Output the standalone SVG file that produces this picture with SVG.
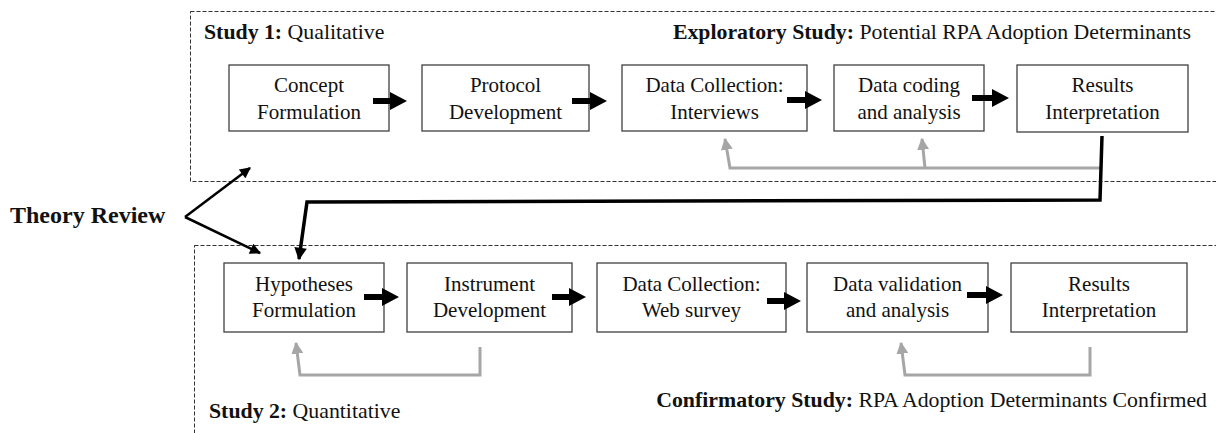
<svg xmlns="http://www.w3.org/2000/svg" width="1216" height="433" viewBox="0 0 1216 433">
  <defs>
    <style>
      .frame { fill: none; stroke: #333; stroke-width: 1; stroke-dasharray: 4 2; }
      .box { fill: #fff; stroke: #404040; stroke-width: 1.3; }
      .lbl { font-family: "Liberation Serif", "Times New Roman", serif; font-size: 21px; fill: #111; text-anchor: middle; }
      .head { font-family: "Liberation Serif", "Times New Roman", serif; font-size: 21.8px; fill: #111; }
      .head tspan.b { font-weight: bold; }
      .theory { font-family: "Liberation Serif", "Times New Roman", serif; font-size: 24px; font-weight: bold; fill: #111; }
      .step { fill: #000; }
      .fb { fill: none; stroke: #a6a6a6; stroke-width: 3; stroke-linejoin: miter; }
      .link { fill: none; stroke: #000; stroke-width: 3.5; stroke-linejoin: miter; }
      .thin { fill: none; stroke: #000; stroke-width: 2.5; }
    </style>
    <marker id="grayHead" viewBox="0 0 10 10" refX="9" refY="5" markerWidth="4" markerHeight="4" markerUnits="strokeWidth" orient="auto">
      <path d="M0,0 L10,5 L0,10 Z" fill="#a6a6a6"/>
    </marker>
    <marker id="blackHead" viewBox="0 0 10 10" refX="9" refY="5" markerWidth="4" markerHeight="3.6" markerUnits="strokeWidth" orient="auto">
      <path d="M0,0 L10,5 L0,10 Z" fill="#000"/>
    </marker>
    <marker id="thinHead" viewBox="0 0 10 10" refX="9" refY="5" markerWidth="5" markerHeight="4.4" markerUnits="strokeWidth" orient="auto">
      <path d="M0,0 L10,5 L0,10 Z" fill="#000"/>
    </marker>
  </defs>

  <!-- study frames -->
  <g id="study1-frame">
    <rect class="frame" x="190.5" y="11.5" width="1040" height="170"/>
    <text class="head" x="204" y="39"><tspan class="b">Study 1:</tspan> Qualitative</text>
    <text class="head" x="1191" y="39" text-anchor="end"><tspan class="b">Exploratory Study:</tspan> Potential RPA Adoption Determinants</text>
  </g>
  <g id="study2-frame">
    <rect class="frame" x="194.5" y="245.5" width="1040" height="200"/>
    <text class="head" x="209" y="418"><tspan class="b">Study 2:</tspan> Quantitative</text>
    <text class="head" x="1207" y="407" text-anchor="end"><tspan class="b">Confirmatory Study:</tspan> RPA Adoption Determinants Confirmed</text>
  </g>

  <g id="theory-review">
    <text class="theory" x="10" y="223">Theory Review</text>
  </g>

  <!-- study 1 steps -->
  <g id="concept-formulation">
    <rect class="box" x="229" y="65" width="160" height="66"/>
    <text class="lbl" x="309" y="92">Concept</text>
    <text class="lbl" x="309" y="119">Formulation</text>
  </g>
  <g id="protocol-development">
    <rect class="box" x="422" y="65" width="167" height="66"/>
    <text class="lbl" x="505.5" y="92">Protocol</text>
    <text class="lbl" x="505.5" y="119">Development</text>
  </g>
  <g id="data-collection-interviews">
    <rect class="box" x="622" y="65" width="185" height="66"/>
    <text class="lbl" x="714.5" y="92">Data Collection:</text>
    <text class="lbl" x="714.5" y="119">Interviews</text>
  </g>
  <g id="data-coding">
    <rect class="box" x="834" y="65" width="150" height="66"/>
    <text class="lbl" x="909" y="92">Data coding</text>
    <text class="lbl" x="909" y="119">and analysis</text>
  </g>
  <g id="results-interpretation-1">
    <rect class="box" x="1017" y="65" width="171" height="67"/>
    <text class="lbl" x="1102.5" y="92">Results</text>
    <text class="lbl" x="1102.5" y="119">Interpretation</text>
  </g>

  <!-- study 2 steps -->
  <g id="hypotheses-formulation">
    <rect class="box" x="224" y="263" width="160" height="69"/>
    <text class="lbl" x="304" y="291">Hypotheses</text>
    <text class="lbl" x="304" y="317">Formulation</text>
  </g>
  <g id="instrument-development">
    <rect class="box" x="407" y="263" width="165" height="69"/>
    <text class="lbl" x="489.5" y="291">Instrument</text>
    <text class="lbl" x="489.5" y="317">Development</text>
  </g>
  <g id="data-collection-survey">
    <rect class="box" x="597" y="263" width="189" height="69"/>
    <text class="lbl" x="691.5" y="291">Data Collection:</text>
    <text class="lbl" x="691.5" y="317">Web survey</text>
  </g>
  <g id="data-validation">
    <rect class="box" x="807" y="263" width="181" height="69"/>
    <text class="lbl" x="897.5" y="291">Data validation</text>
    <text class="lbl" x="897.5" y="317">and analysis</text>
  </g>
  <g id="results-interpretation-2">
    <rect class="box" x="1011" y="263" width="176" height="69"/>
    <text class="lbl" x="1099" y="291">Results</text>
    <text class="lbl" x="1099" y="317">Interpretation</text>
  </g>

  <g id="connectors">
    <!-- block step arrows, study 1 -->
    <polygon class="step" points="373,98 390,98 390,92 407,101 390,110 390,104 373,104"/>
    <polygon class="step" points="572,98 590,98 590,92 607,101 590,110 590,104 572,104"/>
    <polygon class="step" points="787,97 805,97 805,91 822,100 805,109 805,103 787,103"/>
    <polygon class="step" points="972,95 992,95 992,89 1009,98 992,107 992,101 972,101"/>
    <!-- block step arrows, study 2 -->
    <polygon class="step" points="364,294 382,294 382,288 399,297 382,306 382,300 364,300"/>
    <polygon class="step" points="552,294 569,294 569,288 586,297 569,306 569,300 552,300"/>
    <polygon class="step" points="767,298 784,298 784,292 801,301 784,310 784,304 767,304"/>
    <polygon class="step" points="967,292 986,292 986,286 1003,295 986,304 986,298 967,298"/>

    <!-- feedback loops, study 1 -->
    <polyline class="fb" points="1101,168 730,168 725,139" marker-end="url(#grayHead)"/>
    <polyline class="fb" points="925,168 922,139" marker-end="url(#grayHead)"/>
    <!-- feedback loops, study 2 -->
    <polyline class="fb" points="480,347 480,375 300,375 296,343" marker-end="url(#grayHead)"/>
    <polyline class="fb" points="1090,347 1090,375 905,375 901,343" marker-end="url(#grayHead)"/>

    <!-- study 1 results feed study 2 hypotheses -->
    <polyline class="link" points="1102,136 1100,200 307,202 299,259" marker-end="url(#blackHead)"/>

    <!-- theory review to both studies -->
    <line class="thin" x1="185" y1="217" x2="250" y2="168" marker-end="url(#thinHead)"/>
    <line class="thin" x1="185" y1="217" x2="260" y2="253" marker-end="url(#thinHead)"/>
  </g>
</svg>
